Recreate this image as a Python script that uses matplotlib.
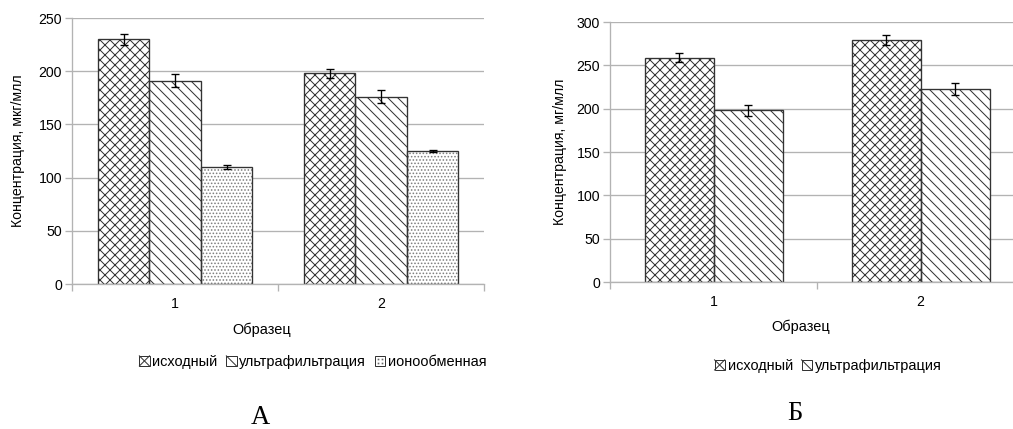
import numpy as np
import matplotlib
matplotlib.use("Agg")
from matplotlib import pyplot as plt
from matplotlib.patches import Patch, Rectangle
from matplotlib.lines import Line2D
from matplotlib.legend_handler import HandlerBase

plt.rcParams['font.family'] = ['Liberation Sans', 'DejaVu Sans']
plt.rcParams['hatch.linewidth'] = 0.6

# data
samples = ['1', '2']

# panel A
a_names = ['исходный', 'ультрафильтрация', 'ионообменная']
a_values = [[230, 198], [191, 176], [110, 125]]
a_errors = [[5, 4], [6, 6], [1.5, 1]]

# panel Б
b_names = ['исходный', 'ультрафильтрация']
b_values = [[259, 279], [198, 223]]
b_errors = [[5.5, 6], [6, 7]]

hatches = ['xxxx', '\\\\\\\\', '......']
hatch_cols = ['#333333', '#333333', '#7d7d7d']
kinds = ['cross', 'diag', 'dots']

DPI = 120
W, H = 1013, 429
fig = plt.figure(figsize=(W / DPI, H / DPI), dpi=DPI)


def px_axes(x0, x1, ytop, ybot):
    return fig.add_axes([x0 / W, 1 - ybot / H, (x1 - x0) / W, (ybot - ytop) / H])


def draw_panel(ax, names, values, errors, group_w, ymax, ylabel, xlab_x):
    n = len(names)
    x = np.arange(len(samples))
    bw = group_w / n
    for i in range(n):
        pos = x - group_w / 2 + bw * (i + 0.5)
        # hatch layer (hatch colour follows edgecolor), then the outline
        ax.bar(pos, values[i], bw, color='white', edgecolor=hatch_cols[i],
               linewidth=0, hatch=hatches[i], zorder=2)
        ax.bar(pos, values[i], bw, color='none', edgecolor='#333333',
               linewidth=0.8, zorder=2.5)
        ax.errorbar(pos, values[i], yerr=errors[i], fmt='none', ecolor='black',
                    elinewidth=0.8, capsize=2.4, capthick=0.8, zorder=3)
    ax.set_xlim(-0.5, len(samples) - 0.5)
    ax.set_ylim(0, ymax)
    ax.set_yticks(np.arange(0, ymax + 1, 50))
    ax.yaxis.grid(True, color='#b3b3b3', linewidth=0.8, zorder=0)
    ax.set_axisbelow(True)
    for s in ['top', 'right']:
        ax.spines[s].set_visible(False)
    for s in ['left', 'bottom']:
        ax.spines[s].set_color('#b3b3b3')
        ax.spines[s].set_linewidth(0.8)
    # category boundary ticks below the axis, labels in the middle
    ax.set_xticks(np.arange(-0.5, len(samples), 1.0))
    ax.set_xticklabels([])
    ax.set_xticks(x, minor=True)
    ax.set_xticklabels(samples, minor=True)
    ax.tick_params(axis='x', which='major', length=4, color='#b3b3b3', width=0.8)
    ax.tick_params(axis='x', which='minor', length=0, labelsize=8.5, pad=8)
    ax.tick_params(axis='y', length=4, color='#b3b3b3', width=0.8, labelsize=8.5, pad=2)
    ax.set_ylabel(ylabel, fontsize=8.5)
    ax.set_xlabel('Образец', fontsize=8.7)
    ax.xaxis.set_label_coords(xlab_x, -0.145)


axA = px_axes(72, 484, 18, 284)
draw_panel(axA, a_names, a_values, a_errors, 0.75, 250,
           'Концентрация, мкг/млл', (262 - 72) / 412)
axA.yaxis.set_label_coords(-0.115, 0.5)

axB = px_axes(610, 1024, 22, 282)
draw_panel(axB, b_names, b_values, b_errors, 2 / 3, 300,
           'Концентрация, мг/млл', (801 - 610) / 414)
axB.yaxis.set_label_coords(-0.104, 0.5)


class SwatchHandler(HandlerBase):
    # small square with one cross / one diagonal / a few dots, like the original
    def create_artists(self, legend, orig_handle, xd, yd, width, height, fontsize, trans):
        kind = orig_handle.get_label()
        s = min(width, height)
        x0 = xd * -1 + (width - s) / 2
        y0 = -yd
        arts = [Rectangle((x0, y0), s, s, facecolor='white', edgecolor='#333333',
                          linewidth=0.6, transform=trans)]
        if kind in ('cross', 'diag'):
            arts.append(Line2D([x0, x0 + s], [y0 + s, y0], color='#333333',
                               linewidth=0.6, transform=trans))
        if kind == 'cross':
            arts.append(Line2D([x0, x0 + s], [y0, y0 + s], color='#333333',
                               linewidth=0.6, transform=trans))
        if kind == 'dots':
            g = np.array([0.3, 0.7])
            gx, gy = np.meshgrid(g, g)
            arts.append(Line2D(x0 + gx.ravel() * s, y0 + gy.ravel() * s, linestyle='none',
                               marker='s', markersize=1.0, markeredgewidth=0,
                               color='#666666', transform=trans))
        return arts


def legend_at(names, cx, cy):
    handles = [Patch(label=kinds[i]) for i in range(len(names))]
    fig.legend(handles, names, loc='center', bbox_to_anchor=(cx / W, 1 - cy / H),
               ncol=len(names), frameon=False, fontsize=8.7,
               handlelength=0.7, handleheight=0.7, handletextpad=0.2,
               columnspacing=0.6, borderpad=0,
               handler_map={Patch: SwatchHandler()})


legend_at(a_names, 313, 362)
legend_at(b_names, 828, 366)

fig.text(260 / W, 1 - 417 / H, 'А', ha='center', va='center', fontsize=16,
         family=['Liberation Serif', 'DejaVu Serif'])
fig.text(795 / W, 1 - 413 / H, 'Б', ha='center', va='center', fontsize=16,
         family=['Liberation Serif', 'DejaVu Serif'])

fig.savefig('out.png', dpi=DPI)
